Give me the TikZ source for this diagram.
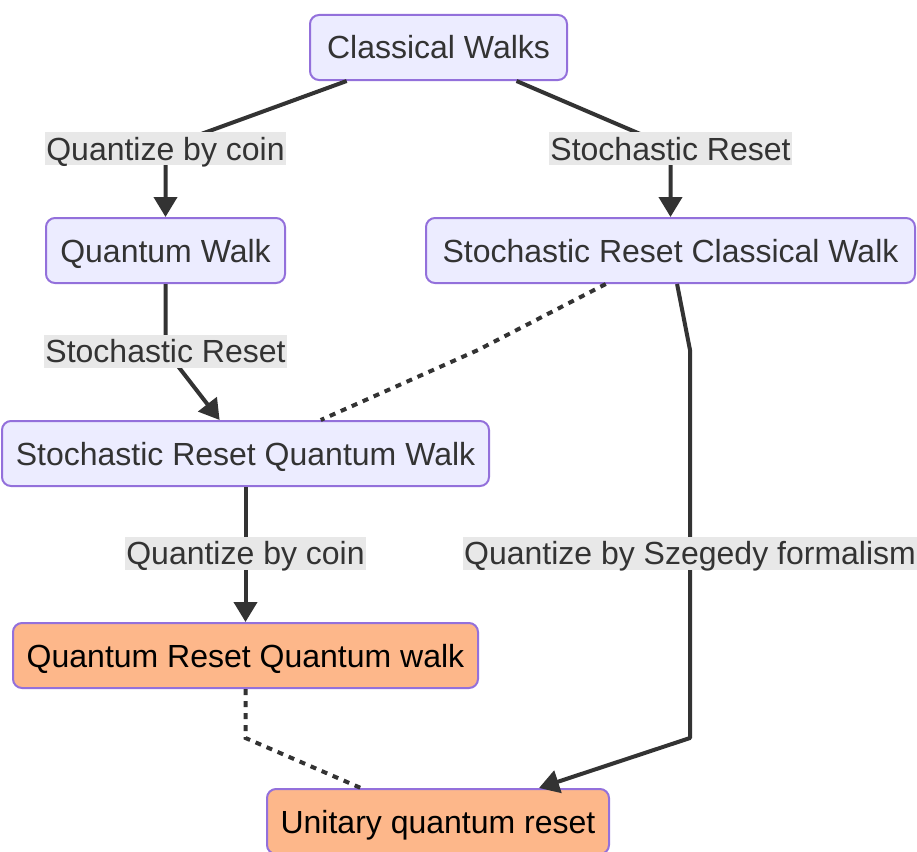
\documentclass[tikz,border=0pt]{standalone}
\usepackage{fontspec}
\setmainfont{Liberation Sans}
\usetikzlibrary{arrows.meta}
\definecolor{nodefill}{HTML}{ECECFF}
\definecolor{nodeline}{HTML}{9370DB}
\definecolor{orangefill}{HTML}{FDB78A}
\definecolor{edgecol}{HTML}{333333}
\definecolor{lblfill}{HTML}{E8E8E8}
\tikzset{
  box/.style={draw=nodeline, line width=2pt, rounded corners=9pt, fill=nodefill,
    text=edgecol, inner sep=0pt, minimum height=65pt,
    font=\fontsize{32}{38}\selectfont, text height=28pt, text depth=5pt},
  obox/.style={box, fill=orangefill, text=black},
  lbl/.style={fill=lblfill, text=edgecol, inner xsep=1pt, inner ysep=0pt,
    font=\fontsize{32}{38}\selectfont, text height=28pt, text depth=5pt},
  edge/.style={draw=edgecol, line width=4pt, line join=round,
    -{Triangle[width=23pt,length=20pt]}},
  dotedge/.style={draw=edgecol, line width=4pt, dash pattern=on 6pt off 6pt},
}
\begin{document}
\begin{tikzpicture}[x=1pt,y=-1pt]
\useasboundingbox (0,0) rectangle (917,851);
% nodes
\node[box, minimum width=257pt] (cw) at (438.5,47.5) {Classical Walks};
\node[box, minimum width=239pt] (qw) at (165.5,250.5) {Quantum Walk};
\node[box, minimum width=489pt] (srcw) at (670.5,250.5) {Stochastic Reset Classical Walk};
\node[box, minimum width=487pt] (srqw) at (245.5,453.5) {Stochastic Reset Quantum Walk};
\node[obox, minimum width=465pt] (qrqw) at (245.5,655.5) {Quantum Reset Quantum walk};
\node[obox, minimum width=342pt] (uqr) at (438,821.5) {Unitary quantum reset};
% bend points
\coordinate (b1) at (165.5,147);
\coordinate (b2) at (670.5,147);
\coordinate (b3) at (165.5,350);
\coordinate (b4) at (478,350);
\coordinate (b5a) at (690,350);
\coordinate (b5b) at (690,738);
\coordinate (b7) at (245.5,738);
% edges
\draw[edge] (cw) -- (b1) -- (qw);
\draw[edge] (cw) -- (b2) -- (srcw);
\draw[edge] (qw) -- (b3) -- (srqw);
\draw[dotedge] (srcw) -- (b4) -- (srqw);
\draw[edge] (srcw) -- (b5a) -- (b5b) -- (uqr);
\draw[edge] (srqw) -- (qrqw);
\draw[dotedge] (qrqw) -- (b7) -- (uqr);
% edge labels
\node[lbl] (l1) at (165.5,148.5) {Quantize by coin};
\node[lbl] (l2) at (670.5,148.5) {Stochastic Reset};
\node[lbl] (l3) at (165.5,351) {Stochastic Reset};
\node[lbl] (l4) at (245.5,553) {Quantize by coin};
\node[lbl] (l5) at (690,553) {Quantize by Szegedy formalism};
\end{tikzpicture}
\end{document}
